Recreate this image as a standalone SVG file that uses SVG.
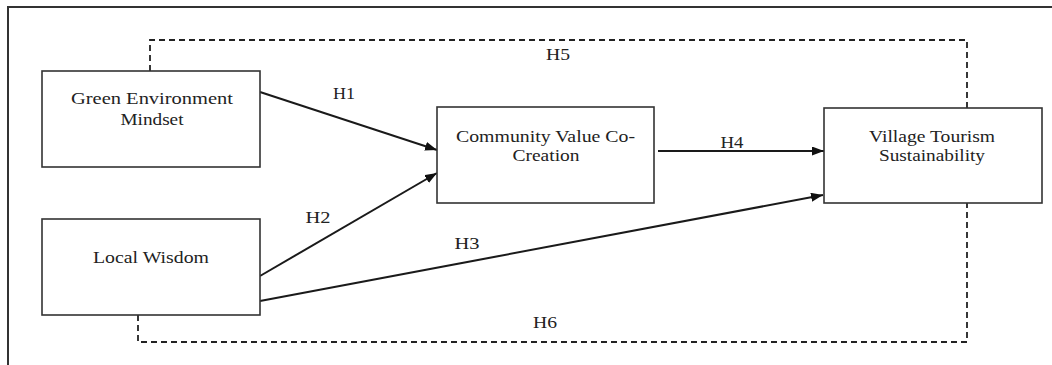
<svg xmlns="http://www.w3.org/2000/svg" width="1052" height="365" viewBox="0 0 1052 365">
<defs>
<style>
.box{fill:#fff;stroke:#333;stroke-width:1.6}
.lbl{font-family:"Liberation Serif","Times New Roman",serif;font-size:16px;fill:#222;text-anchor:middle}
.edge{fill:none;stroke:#1a1a1a;stroke-width:2}
.dash{fill:none;stroke:#222;stroke-width:1.8;stroke-dasharray:6 4}
</style>
<marker id="arr" markerUnits="userSpaceOnUse" markerWidth="12" markerHeight="10" refX="12" refY="4.5" orient="auto">
<path d="M0,0 L12,4.5 L0,9 z" fill="#111"/>
</marker>
</defs>
<rect x="0" y="0" width="1052" height="365" fill="#fff"/>
<rect x="8" y="7" width="1100" height="400" fill="none" stroke="#333" stroke-width="2"/>
<g id="connectors">
<path class="dash" d="M150,71 V40 H967 V108"/>
<path class="dash" d="M138,315 V342 H967 V203"/>
<line class="edge" x1="260" y1="92" x2="437" y2="150" marker-end="url(#arr)"/>
<line class="edge" x1="260" y1="276" x2="437" y2="173" marker-end="url(#arr)"/>
<line class="edge" x1="260" y1="301" x2="823" y2="195" marker-end="url(#arr)"/>
<line class="edge" x1="658" y1="151" x2="824" y2="151" marker-end="url(#arr)"/>
<text class="lbl" x="344" y="99" textLength="22" lengthAdjust="spacingAndGlyphs">H1</text>
<text class="lbl" x="318" y="223" textLength="25" lengthAdjust="spacingAndGlyphs">H2</text>
<text class="lbl" x="467" y="249" textLength="25" lengthAdjust="spacingAndGlyphs">H3</text>
<text class="lbl" x="732" y="148" textLength="23" lengthAdjust="spacingAndGlyphs">H4</text>
<text class="lbl" x="558" y="60" textLength="24" lengthAdjust="spacingAndGlyphs">H5</text>
<text class="lbl" x="545" y="328" textLength="24" lengthAdjust="spacingAndGlyphs">H6</text>
</g>
<g id="gem">
<rect class="box" x="42" y="71" width="218" height="96"/>
<text class="lbl" x="152" y="104" textLength="162" lengthAdjust="spacingAndGlyphs">Green Environment</text>
<text class="lbl" x="152" y="125" textLength="63" lengthAdjust="spacingAndGlyphs">Mindset</text>
</g>
<g id="lw">
<rect class="box" x="42" y="219" width="218" height="96"/>
<text class="lbl" x="151" y="263" textLength="116" lengthAdjust="spacingAndGlyphs">Local Wisdom</text>
</g>
<g id="cvc">
<rect class="box" x="437" y="107" width="217" height="96"/>
<text class="lbl" x="545.5" y="142" textLength="179" lengthAdjust="spacingAndGlyphs">Community Value Co-</text>
<text class="lbl" x="546" y="161" textLength="67" lengthAdjust="spacingAndGlyphs">Creation</text>
</g>
<g id="vts">
<rect class="box" x="824" y="108" width="218" height="95"/>
<text class="lbl" x="932" y="142" textLength="126" lengthAdjust="spacingAndGlyphs">Village Tourism</text>
<text class="lbl" x="932" y="161" textLength="106" lengthAdjust="spacingAndGlyphs">Sustainability</text>
</g>
</svg>
